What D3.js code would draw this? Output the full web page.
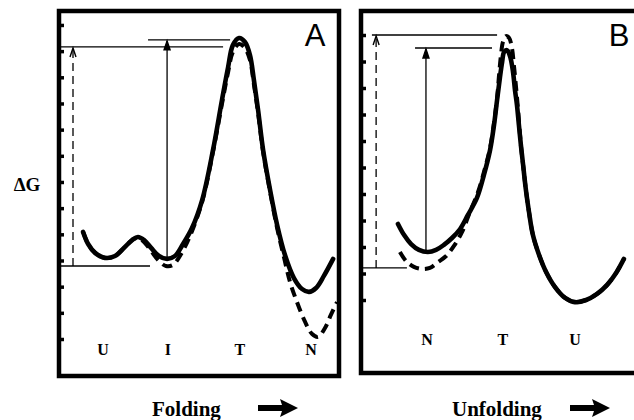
<!DOCTYPE html>
<html>
<head>
<meta charset="utf-8">
<script src="https://cdn.jsdelivr.net/npm/d3@7"></script>
<style>
  body { margin: 0; background: #fff; }
  svg { display: block; }
</style>
</head>
<body>
<div id="chart"></div>
<script>
// reaction coordinate runs 0-100 across a panel, free energy in tick units

// panel A - folding
var foldStates = ["U", "I", "T", "N"];
var foldStatePos = [15.7, 38.9, 64.6, 90];
var foldTicks = [0, 1, 2, 3, 4, 5, 6, 7, 8, 9, 10, 11, 12];
var foldSolid = [[8.6, 4.09], [10.4, 3.63], [12.9, 3.29], [16.4, 3.1], [20, 3.17], [23.2, 3.48],
  [26.1, 3.78], [28.2, 3.9], [30.4, 3.78], [32.9, 3.48], [35.7, 3.17], [38.6, 3.06], [41.4, 3.17],
  [44.3, 3.63], [47.5, 4.24], [51.1, 5.3], [55, 7.22], [58.2, 9.13], [60.4, 10.39], [62.1, 11.23],
  [64.3, 11.5], [66.4, 11.35], [68.2, 10.85], [69.6, 9.9], [71.1, 8.75], [72.9, 7.22], [75.4, 5.69],
  [77.9, 4.36], [80.7, 3.21], [83.9, 2.33], [86.8, 1.91], [89.3, 1.8], [91.8, 1.95], [94.6, 2.41],
  [97.9, 3.06]];
var foldDashed = [[8.6, 4.09], [10.4, 3.63], [12.9, 3.29], [16.4, 3.1], [20, 3.17], [23.2, 3.48],
  [26.1, 3.78], [28.2, 3.86], [30.7, 3.67], [33.2, 3.32], [35.7, 2.98], [38.2, 2.79], [40.7, 2.83],
  [43.6, 3.25], [46.8, 3.94], [51.1, 5.23], [55, 7.15], [58.2, 8.98], [60.4, 10.2], [62.1, 10.97],
  [64.3, 11.27], [66.4, 11.12], [68.2, 10.66], [69.6, 9.74], [71.1, 8.64], [72.9, 7.15], [75.4, 5.62],
  [77.9, 4.24], [80.4, 3.1], [82.5, 2.18], [85, 1.41], [87.9, 0.65], [90.4, 0.19], [92.5, 0.08],
  [95, 0.42], [97.1, 0.92], [99.3, 1.41]];
// barrier markers: [x from, x to, energy]
var foldLevels = [[31.8, 61.1, 11.43], [0, 58.6, 11.16], [0, 32.5, 2.79]];
// arrows: [x, energy from, energy to]
var foldArrowSolid = [38.6, 3.06, 11.43];
var foldArrowDashed = [5, 2.79, 11.16];

// panel B - unfolding
var unfoldStates = ["N", "T", "U"];
var unfoldStatePos = [23.6, 50.7, 76.4];
var unfoldTicks = [0, 1, 2, 3, 4, 5, 6, 7, 8, 9, 10];
var unfoldSolid = [[13.2, 2.87], [15.4, 2.45], [17.9, 2.11], [20.7, 1.89], [23.9, 1.81], [26.8, 1.89],
  [29.6, 2.08], [32.5, 2.34], [35.4, 2.68], [38.2, 3.21], [41.4, 3.85], [43.9, 4.72], [46.1, 5.66],
  [47.5, 6.6], [48.6, 7.55], [49.6, 8.38], [50.4, 8.98], [51.1, 9.36], [52.1, 9.43], [53.2, 9.21],
  [54.3, 8.6], [55, 7.92], [55.7, 7.36], [56.4, 6.6], [57.1, 5.85], [57.9, 5.09], [58.9, 4.15],
  [60, 3.32], [61.4, 2.45], [63.6, 1.7], [66.1, 1.06], [69.3, 0.49], [72.9, 0.08], [76.4, -0.08],
  [80.4, 0], [84.3, 0.23], [87.9, 0.57], [91.1, 1.02], [93.9, 1.55]];
var unfoldDashed = [[13.9, 1.81], [16.1, 1.47], [18.9, 1.25], [21.8, 1.17], [24.6, 1.21], [27.5, 1.43],
  [30.4, 1.66], [33.2, 2.04], [36.1, 2.57], [38.9, 3.32], [41.8, 4.08], [44.3, 4.98], [46.1, 5.74],
  [47.5, 6.68], [48.6, 7.62], [49.3, 8.49], [50, 9.25], [50.7, 9.74], [51.8, 9.96], [52.9, 9.89],
  [53.9, 9.51], [54.6, 8.87], [55.4, 8.0], [56.1, 7.17], [57.1, 5.85], [57.9, 5.09], [58.9, 4.15],
  [60, 3.32], [61.4, 2.45], [63.6, 1.7], [66.1, 1.06], [69.3, 0.49], [72.9, 0.08], [76.4, -0.08],
  [80.4, 0], [84.3, 0.23], [87.9, 0.57], [91.1, 1.02], [93.9, 1.55]];
var unfoldLevels = [[3.9, 48.6, 10.0], [19.3, 46.8, 9.51], [0, 16.4, 1.21]];
var unfoldArrowSolid = [23.2, 1.81, 9.51];
var unfoldArrowDashed = [5.4, 1.21, 10.0];

var width = 634, height = 420;
var serif = "'Liberation Serif', 'Times New Roman', serif";
var sans = "'Liberation Sans', Arial, sans-serif";

var svg = d3.select("#chart")
  .append("svg")
  .attr("width", width)
  .attr("height", height);

function drawPanel(p) {
  var g = svg.append("g");

  var xScale = d3.scaleLinear()
    .domain([0, 100])
    .range([p.left, p.left + 280]);

  var yScale = d3.scaleLinear()
    .domain([0, 1])
    .range([p.zero, p.zero - p.unit]);

  // frame
  g.append("rect")
    .attr("x", p.left)
    .attr("y", p.top)
    .attr("width", p.w)
    .attr("height", p.bottom - p.top)
    .attr("fill", "none")
    .attr("stroke", "#000")
    .attr("stroke-width", 4.5);

  // inward ticks on the energy axis
  var yAxis = d3.axisLeft(yScale)
    .tickValues(p.ticks)
    .tickSize(-4)
    .tickFormat("");
  var ax = g.append("g")
    .attr("transform", `translate(${p.left + 1}, 0)`)
    .call(yAxis);
  ax.select(".domain").remove();
  ax.selectAll(".tick line")
    .attr("stroke", "#000")
    .attr("stroke-width", 3.5);

  var line = d3.line()
    .x(d => xScale(d[0]))
    .y(d => yScale(d[1]))
    .curve(d3.curveCatmullRom.alpha(0.5));

  g.append("path")
    .datum(p.dashed)
    .attr("d", line)
    .attr("fill", "none")
    .attr("stroke", "#000")
    .attr("stroke-width", 4)
    .attr("stroke-dasharray", "10,6");

  g.append("path")
    .datum(p.solid)
    .attr("d", line)
    .attr("fill", "none")
    .attr("stroke", "#000")
    .attr("stroke-width", 4.6)
    .attr("stroke-linecap", "round");

  // thin barrier levels
  g.selectAll(".level")
    .data(p.levels)
    .enter()
    .append("line")
    .attr("x1", d => xScale(d[0]))
    .attr("x2", d => xScale(d[1]))
    .attr("y1", d => yScale(d[2]))
    .attr("y2", d => yScale(d[2]))
    .attr("stroke", "#000")
    .attr("stroke-width", 1.3);

  // arrows: filled head for the solid, open chevron for the dashed
  [[p.arrowSolid, null], [p.arrowDashed, "8,5"]].forEach(function(a) {
    var d = a[0];
    var ax0 = xScale(d[0]);
    var yTip = yScale(d[2]) + 1;
    g.append("line")
      .attr("x1", ax0)
      .attr("x2", ax0)
      .attr("y1", yScale(d[1]))
      .attr("y2", yTip)
      .attr("stroke", "#000")
      .attr("stroke-width", 1.3)
      .attr("stroke-dasharray", a[1]);
    g.append("path")
      .attr("d", a[1]
        ? `M${ax0 - 3},${yTip + 9} L${ax0},${yTip} L${ax0 + 3},${yTip + 9}`
        : `M${ax0},${yTip} L${ax0 - 3},${yTip + 9} L${ax0 + 3},${yTip + 9} Z`)
      .attr("fill", a[1] ? "none" : "#000")
      .attr("stroke", "#000")
      .attr("stroke-width", 1.4);
  });

  // state labels
  g.selectAll(".state")
    .data(p.states)
    .enter()
    .append("text")
    .attr("x", (d, i) => xScale(p.statePos[i]))
    .attr("y", p.stateY)
    .attr("text-anchor", "middle")
    .attr("font-family", serif)
    .attr("font-weight", "bold")
    .attr("font-size", 16)
    .text(d => d);

  // panel letter
  g.append("text")
    .attr("x", p.letterX)
    .attr("y", 46)
    .attr("text-anchor", "middle")
    .attr("font-family", sans)
    .attr("font-size", 31)
    .text(p.letter);

  // direction caption with block arrow
  g.append("text")
    .attr("x", p.capX)
    .attr("y", 416)
    .attr("font-family", serif)
    .attr("font-weight", "bold")
    .attr("font-size", 21)
    .text(p.caption);
  var arX = p.arrowX;
  g.append("path")
    .attr("d", `M${arX},405 L${arX + 24},405 L${arX + 22},399 L${arX + 40},408 L${arX + 22},417 L${arX + 24},411 L${arX},411 Z`)
    .attr("fill", "#000");
}

drawPanel({
  left: 59, top: 11, bottom: 376, w: 280, zero: 339, unit: 26.17,
  ticks: foldTicks, solid: foldSolid, dashed: foldDashed, levels: foldLevels,
  arrowSolid: foldArrowSolid, arrowDashed: foldArrowDashed,
  states: foldStates, statePos: foldStatePos, stateY: 355,
  letter: "A", letterX: 315, caption: "Folding", capX: 152, arrowX: 258
});

drawPanel({
  left: 361, top: 11, bottom: 373, w: 290, zero: 300, unit: 26.5,
  ticks: unfoldTicks, solid: unfoldSolid, dashed: unfoldDashed, levels: unfoldLevels,
  arrowSolid: unfoldArrowSolid, arrowDashed: unfoldArrowDashed,
  states: unfoldStates, statePos: unfoldStatePos, stateY: 345,
  letter: "B", letterX: 619, caption: "Unfolding", capX: 452, arrowX: 570
});

// energy axis title
svg.append("text")
  .attr("x", 27)
  .attr("y", 191)
  .attr("text-anchor", "middle")
  .attr("font-family", serif)
  .attr("font-weight", "bold")
  .attr("font-size", 19)
  .text("ΔG");
</script>
</body>
</html>
